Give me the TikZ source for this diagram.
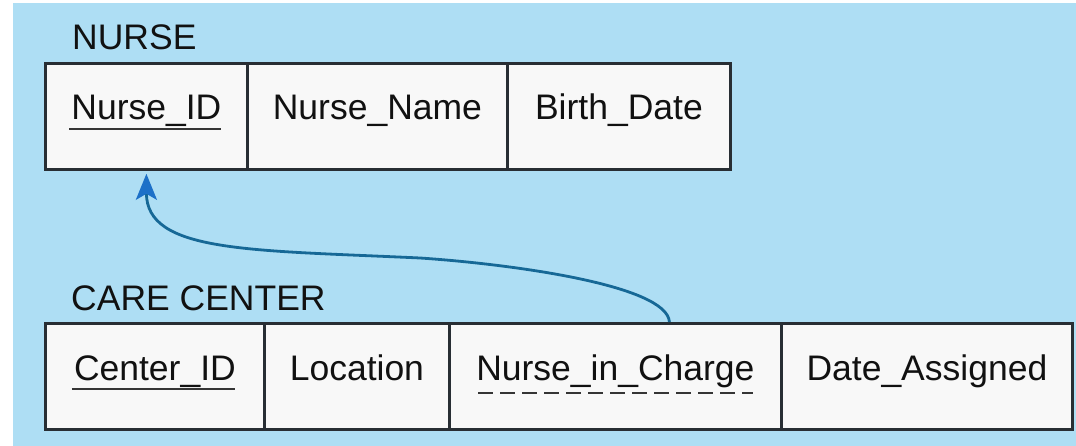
\documentclass[tikz,border=0pt]{standalone}
\usepackage{fontspec}
\setmainfont{Liberation Sans}
\usetikzlibrary{arrows.meta,calc}

\definecolor{panel}{RGB}{174,222,244}
\definecolor{cellfill}{RGB}{248,248,248}
\definecolor{rulecol}{RGB}{40,46,52}
\definecolor{fkline}{RGB}{22,104,150}
\definecolor{fkhead}{RGB}{28,112,200}
\definecolor{ink}{RGB}{17,17,17}

\tikzset{
  cell/.style={draw=rulecol, fill=cellfill, line width=2.8pt, minimum height=106pt,
               inner sep=0pt, anchor=north west},
  field/.style={font=\fontsize{35.5}{40}\selectfont, text=ink, inner sep=0pt,
                text height=0.72em, text depth=0pt},
  title/.style={font=\fontsize{35.5}{40}\selectfont, text=ink, inner sep=0pt, anchor=base west},
  pkline/.style={draw=ink!85!white, line width=2.6pt},
  fkdash/.style={draw=ink!85!white, line width=2.6pt, dash pattern=on 15pt off 7pt},
  refarrow/.style={draw=fkline, line width=2.8pt, shorten >=3pt,
                   -{Stealth[length=26pt,width=21pt,inset=6pt,color=fkhead]}}
}

\begin{document}
\begin{tikzpicture}[x=1pt,y=-1pt]
\useasboundingbox (0,0) rectangle (1076,446);
\fill[white] (0,0) rectangle (1076,446);
\fill[panel] (13,3) rectangle (1076,446);

% NURSE relation
\node[title] (nurse) at (72,50) {NURSE};
\node[cell, minimum width=202pt] (n1) at (44,62) {};
\node[cell, minimum width=260pt] (n2) at (246,62) {};
\node[cell, minimum width=223pt] (n3) at (506,62) {};
\node[field] (n1t) at (n1.center) {Nurse\_ID};
\node[field] (n2t) at (n2.center) {Nurse\_Name};
\node[field] (n3t) at (n3.center) {Birth\_Date};
\draw[pkline] ($(n1t.base west)+(-2,9)$) -- ($(n1t.base east)+(-1,9)$);

% CARE CENTER relation
\node[title] (care) at (71,311) {CARE CENTER};
\node[cell, minimum width=219pt] (c1) at (44,322) {};
\node[cell, minimum width=185pt] (c2) at (263,322) {};
\node[cell, minimum width=332pt] (c3) at (448,322) {};
\node[cell, minimum width=291pt] (c4) at (780,322) {};
\node[field] (c1t) at (c1.center) {Center\_ID};
\node[field] (c2t) at (c2.center) {Location};
\node[field] (c3t) at (c3.center) {Nurse\_in\_Charge};
\node[field] (c4t) at (c4.center) {Date\_Assigned};
\draw[pkline] ($(c1t.base west)+(-2,9)$) -- ($(c1t.base east)+(-1,9)$);
\draw[fkdash] ($(c3t.base west)+(2,13)$) -- ($(c3t.base east)+(-2,13)$);

% foreign key reference
\coordinate (fksrc) at ($(c3.north)+(54,0)$);
\coordinate (fkmid) at (420,258);
\draw[refarrow] (fksrc) .. controls ($(fksrc)+(-2,-37)$) and ($(fkmid)+(90,6)$) .. (fkmid)
  .. controls ($(fkmid)+(-170,-8)$) and ($(n1.south)+(0,82)$) .. (n1.south);
\end{tikzpicture}
\end{document}
